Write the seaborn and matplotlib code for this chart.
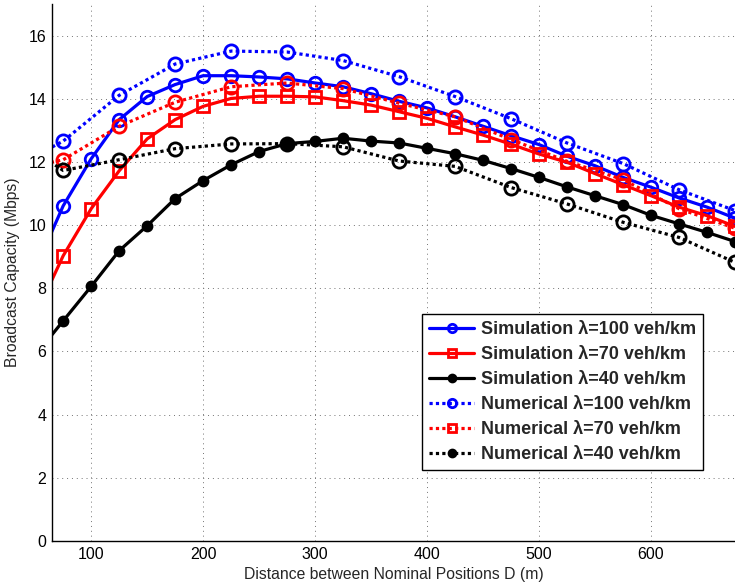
import numpy as np
import pandas as pd
import matplotlib
matplotlib.use("Agg")
import matplotlib.pyplot as plt
from matplotlib.lines import Line2D
import seaborn as sns

# ---------------- data ----------------
x_sim = [50, 75, 100, 125, 150, 175, 200, 225, 250, 275, 300, 325, 350,
         375, 400, 425, 450, 475, 500, 525, 550, 575, 600, 625, 650, 675]
sim_100 = [8.6, 10.61, 12.1, 13.34, 14.07, 14.45, 14.73, 14.73, 14.69, 14.63,
           14.5, 14.38, 14.16, 13.92, 13.71, 13.43, 13.13, 12.83, 12.55, 12.18,
           11.88, 11.51, 11.2, 10.86, 10.57, 10.22]
sim_70 = [7.13, 9.03, 10.52, 11.72, 12.73, 13.34, 13.76, 14.01, 14.08, 14.08,
          14.06, 13.94, 13.8, 13.59, 13.38, 13.11, 12.85, 12.56, 12.25, 11.99,
          11.63, 11.28, 10.93, 10.57, 10.3, 9.96]
sim_40 = [5.87, 6.97, 8.06, 9.19, 9.98, 10.84, 11.41, 11.91, 12.33, 12.58,
          12.65, 12.75, 12.66, 12.6, 12.43, 12.26, 12.05, 11.79, 11.51, 11.21,
          10.93, 10.65, 10.31, 10.04, 9.77, 9.48]

x_num = [25, 75, 125, 175, 225, 275, 325, 375, 425, 475, 525, 575, 625, 675]
num_100 = [11.71, 12.66, 14.11, 15.1, 15.51, 15.48, 15.21, 14.7, 14.07, 13.37,
           12.6, 11.95, 11.12, 10.46]
num_70 = [11.67, 12.07, 13.13, 13.89, 14.38, 14.5, 14.32, 13.86, 13.43, 12.71,
          12.02, 11.44, 10.52, 9.9]
num_40 = [12.9, 11.73, 12.07, 12.42, 12.57, 12.58, 12.48, 12.03, 11.86, 11.19,
          10.67, 10.09, 9.61, 8.82]

labels = ["Simulation \u03bb=100 veh/km", "Simulation \u03bb=70 veh/km",
          "Simulation \u03bb=40 veh/km", "Numerical \u03bb=100 veh/km",
          "Numerical \u03bb=70 veh/km", "Numerical \u03bb=40 veh/km"]
x_ticks = [100, 200, 300, 400, 500, 600]
y_ticks = [0, 2, 4, 6, 8, 10, 12, 14, 16]

# ---------------- style ----------------
sns.set_style("white")
plt.rcParams['font.family'] = ['Liberation Sans', 'DejaVu Sans']

fig = plt.figure(figsize=(7.35, 5.83), dpi=100)
ax = fig.add_axes([52 / 735, 42 / 583, (735 - 52) / 735, (541 - 4) / 583])

dot = (0, (1, 1))
series = [
    (x_sim, sim_100, 'blue', '-', 'o', 9, 'none'),
    (x_sim, sim_70, 'red', '-', 's', 8.5, 'none'),
    (x_sim, sim_40, 'black', '-', 'o', 6.5, 'black'),
    (x_num, num_100, 'blue', dot, 'o', 9.5, 'none'),
    (x_num, num_70, 'red', dot, 'o', 9.5, 'none'),
    (x_num, num_40, 'black', dot, 'o', 9.5, 'none'),
]
for (xs, ys, c, ls, mk, ms, mfc) in series:
    df = pd.DataFrame({"D": xs, "C": ys})
    sns.lineplot(data=df, x="D", y="C", ax=ax, color=c, linestyle=ls,
                 linewidth=2.3, marker=mk, markersize=ms,
                 markerfacecolor=mfc, markeredgecolor=c, markeredgewidth=2.0,
                 dash_capstyle='butt', legend=False)

ax.set_xlim(65, 675)
ax.set_ylim(0, 17)
ax.set_xticks(x_ticks)
ax.set_yticks(y_ticks)
ax.tick_params(direction='in', length=5, width=1, labelsize=11.5, colors='black',
               pad=4)
ax.grid(True, linestyle=(0, (1, 4)), color='0.45', linewidth=0.7)
for s in ['top', 'right']:
    ax.spines[s].set_visible(False)
for s in ['left', 'bottom']:
    ax.spines[s].set_color('black')
    ax.spines[s].set_linewidth(1.0)

ax.set_xlabel("Distance between Nominal Positions D (m)", fontsize=11.3, labelpad=4)
ax.set_ylabel("Broadcast Capacity (Mbps)", fontsize=11.3, labelpad=6)

handles = [
    Line2D([], [], color='blue', lw=2.3, marker='o', ms=6, mfc='none', mew=2),
    Line2D([], [], color='red', lw=2.3, marker='s', ms=6, mfc='none', mew=2),
    Line2D([], [], color='black', lw=2.3, marker='o', ms=5, mfc='black', mew=2),
    Line2D([], [], color='blue', lw=2.3, ls=dot, marker='o', ms=6, mfc='none', mew=2),
    Line2D([], [], color='red', lw=2.3, ls=dot, marker='s', ms=6, mfc='none', mew=2),
    Line2D([], [], color='black', lw=2.3, ls=dot, marker='o', ms=5, mfc='black', mew=2),
]
leg = ax.legend(handles, labels, loc='upper left',
                bbox_to_anchor=((422 - 52) / 683, (541 - 314) / 537),
                borderaxespad=0, fancybox=False, framealpha=1,
                edgecolor='black', handlelength=2.5, handletextpad=0.35,
                labelspacing=0.44, borderpad=0.4,
                prop={'weight': 'bold', 'size': 13})
leg.get_frame().set_linewidth(1.0)

fig.savefig("out.png", dpi=100)
